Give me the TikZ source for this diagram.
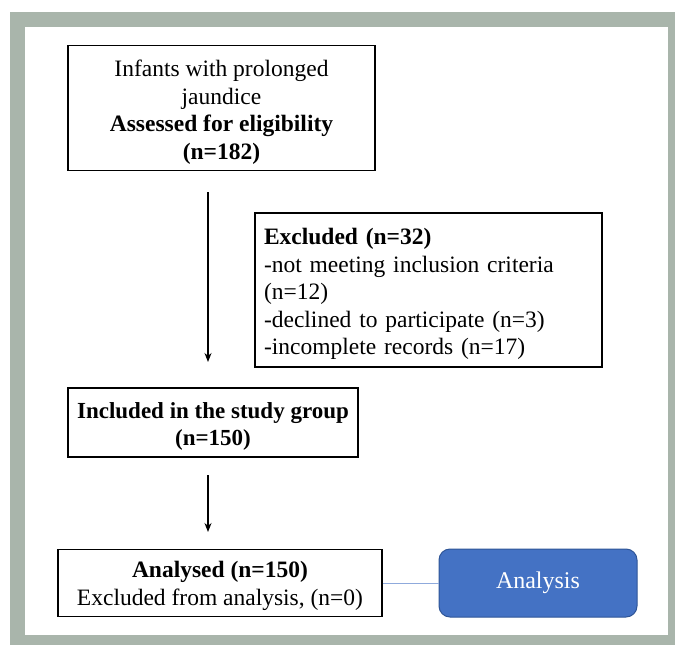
\documentclass[tikz,border=0pt]{standalone}
\usepackage{fontspec}
\setmainfont{Liberation Serif}
\usetikzlibrary{arrows.meta,calc}
\definecolor{framegrey}{RGB}{169,181,171}
\definecolor{anfill}{RGB}{68,114,196}
\definecolor{anedge}{RGB}{47,85,151}
\definecolor{linkblue}{RGB}{143,170,220}
\tikzset{
  box/.style={draw=black, line width=1.1pt, fill=white, inner sep=0pt},
  txt/.style={inner sep=0pt, align=center, font=\fontsize{23.5}{27.5}\selectfont},
  arr/.style={line width=1.1pt, -{Stealth[length=9pt,width=7pt]}},
}
\begin{document}
\begin{tikzpicture}[x=1pt,y=-1pt]
\useasboundingbox (0,0) rectangle (675,645);
\fill[white] (0,0) rectangle (675,645);
\fill[framegrey] (10,12) rectangle (675,645);
\fill[white] (25,27) rectangle (668,635);

\node[box, minimum width=307pt, minimum height=125pt] (b1) at (221.5,108) {};
\node[txt] (t1) at ($(b1.center)+(0,4)$)
  {Infants with prolonged\\jaundice\\\textbf{Assessed for eligibility}\\\textbf{(n=182)}};

\node[box, minimum width=347pt, minimum height=154pt] (b2) at (428.5,290) {};
\node[txt, text width=329pt, align=left] (t2) at ($(b2.center)+(0,4)$)
  {\textbf{Excluded (n=32)}\\-not meeting inclusion criteria\\(n=12)\\-declined to participate (n=3)\\-incomplete records (n=17)};

\node[box, minimum width=290pt, minimum height=69pt] (b3) at (213,422.5) {};
\node[txt, font=\fontsize{23}{27.5}\selectfont] (t3) at ($(b3.center)+(0,4)$)
  {\textbf{Included in the study group}\\\textbf{(n=150)}};

\node[box, minimum width=324pt, minimum height=67pt] (b4) at (220,583) {};
\node[txt] (t4) at ($(b4.center)+(0,3)$)
  {\textbf{Analysed (n=150)}\\Excluded from analysis, (n=0)};

\node[draw=anedge, fill=anfill, line width=1pt, rounded corners=11pt, minimum width=198pt, minimum height=68pt,
  text=white, font=\fontsize{24}{28}\selectfont] (an) at (538,583) {Analysis};

\coordinate (a1s) at (208,192);
\coordinate (a1e) at (208,362);
\coordinate (a2s) at (208,475);
\coordinate (a2e) at (208,532);
\draw[arr] (a1s) -- (a1e);
\draw[arr] (a2s) -- (a2e);
\draw[linkblue, line width=1pt] (b4.east) -- (an.west);
\end{tikzpicture}
\end{document}
